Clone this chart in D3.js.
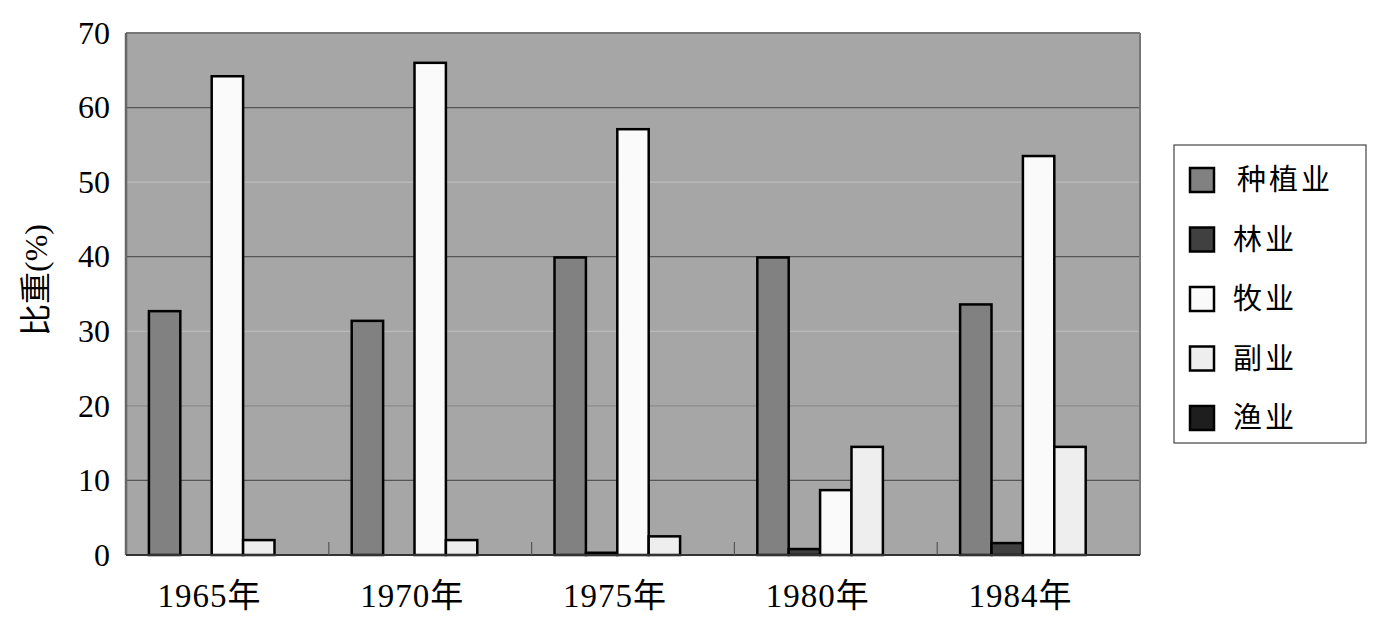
<!DOCTYPE html>
<html><head><meta charset="utf-8">
<script src="https://cdn.jsdelivr.net/npm/d3@7"></script>
<style>body{margin:0;background:#fff;}</style>
</head><body>
<svg id="c" width="1374" height="626"></svg>
<script>
const categories = ["1965年","1970年","1975年","1980年","1984年"];
const seriesNames = ["种植业","林业","牧业","副业","渔业"];
const zhongzhi = [32.7, 31.4, 39.9, 39.9, 33.6];
const linye    = [0, 0, 0.3, 0.8, 1.6];
const muye     = [64.2, 66.0, 57.1, 8.7, 53.5];
const fuye     = [2.0, 2.0, 2.5, 14.5, 14.5];
const yuye     = [0, 0, 0, 0, 0];
const yTicks = [0,10,20,30,40,50,60,70];
const seriesValues = [zhongzhi, linye, muye, fuye, yuye];
const colors = ["#818181","#404040","#fafafa","#eeeeee","#1e1e1e"];

const svg = d3.select("#c");
const L=126, R=1140, T=33, B=555;
const x = d3.scaleBand().domain(categories).range([L,R]).paddingInner(0).paddingOuter(0);
const inner = d3.scaleBand().domain(seriesNames).range([0,x.bandwidth()]).paddingOuter(0.73).paddingInner(0);
const y = d3.scaleLinear().domain([0,70]).range([B,T]);

svg.append("rect").attr("x",L).attr("y",T).attr("width",R-L).attr("height",B-T).attr("fill","#a6a6a6");
const gridColor = v => (v===50||v===30) ? "#bcbcbc" : (v===20 ? "#8a8a8a" : "#555");
svg.append("g").selectAll("line").data(yTicks.filter(v=>v>0&&v<70)).join("line")
  .attr("x1",L).attr("x2",R).attr("y1",d=>y(d)).attr("y2",d=>y(d))
  .attr("stroke",gridColor).attr("stroke-width",1.2);
// border
svg.append("line").attr("x1",L).attr("x2",R).attr("y1",T).attr("y2",T).attr("stroke","#777").attr("stroke-width",2);
svg.append("line").attr("x1",L).attr("x2",L).attr("y1",T).attr("y2",B).attr("stroke","#666").attr("stroke-width",2.5);
svg.append("line").attr("x1",R).attr("x2",R).attr("y1",T).attr("y2",B).attr("stroke","#777").attr("stroke-width",2);

// bars
const groups = svg.append("g").selectAll("g").data(categories).join("g")
  .attr("transform",d=>`translate(${x(d)},0)`);
groups.selectAll("rect").data((c,i)=>seriesNames.map((s,j)=>({s,j,v:seriesValues[j][i]})).filter(d=>d.v>0)).join("rect")
  .attr("x",d=>inner(d.s)).attr("width",inner.bandwidth())
  .attr("y",d=>y(d.v)).attr("height",d=>B-y(d.v))
  .attr("fill",d=>colors[d.j]).attr("stroke","#000").attr("stroke-width",2.5);

// x axis
const xAxis = d3.axisBottom(x).tickSize(0).tickPadding(29);
const gx = svg.append("g").attr("transform",`translate(0,${B})`).call(xAxis);
gx.select(".domain").remove();
gx.selectAll("text").attr("font-family","'Liberation Serif','Noto Sans CJK SC',serif").attr("font-size",33).attr("fill","#000").attr("dy","0.71em").attr("dx",-18).attr("letter-spacing","1px");
svg.append("line").attr("x1",L).attr("x2",R).attr("y1",B).attr("y2",B).attr("stroke","#333").attr("stroke-width",2);
svg.append("g").selectAll("line").data(categories.slice(1)).join("line")
  .attr("x1",d=>x(d)).attr("x2",d=>x(d)).attr("y1",B).attr("y2",B-13).attr("stroke","#555").attr("stroke-width",1.2);

// y axis
const yAxis = d3.axisLeft(y).tickValues(yTicks).tickSize(0).tickPadding(16);
const gy = svg.append("g").attr("transform",`translate(${L},0)`).call(yAxis);
gy.select(".domain").remove();
gy.selectAll("text").attr("font-family","'Liberation Serif',serif").attr("font-size",32).attr("fill","#000");

svg.append("text").attr("transform","translate(47,280) rotate(-90)").attr("text-anchor","middle")
  .attr("font-family","'Liberation Serif','Noto Sans CJK SC',serif").attr("font-size",32).attr("fill","#000").text("比重(%)");

// legend
svg.append("rect").attr("x",1174).attr("y",145).attr("width",192).attr("height",298).attr("fill","#fff").attr("stroke","#444").attr("stroke-width",1.2);
const lg = svg.append("g").selectAll("g").data(seriesNames).join("g")
  .attr("transform",(d,i)=>`translate(1189,${180+i*59.5})`);
lg.append("rect").attr("x",1).attr("y",-12).attr("width",24).attr("height",24)
  .attr("fill",(d,i)=>colors[i]).attr("stroke","#000").attr("stroke-width",2.5);
lg.append("text").attr("x",(d,i)=>i===0?48:44).attr("y",0).attr("dy","0.36em")
  .attr("font-family","'Noto Sans CJK SC',sans-serif").attr("font-size",29).attr("letter-spacing","3px").attr("fill","#000").text(d=>d);
</script>
</body></html>
